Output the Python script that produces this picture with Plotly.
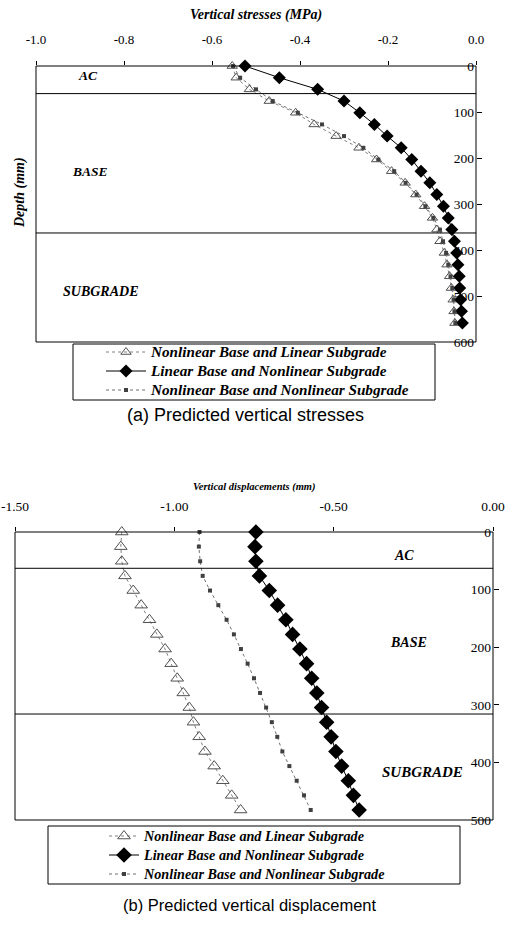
import plotly.graph_objects as go

# ---------------- Data: (a) vertical stresses ----------------
depth_a = [0, 25.4, 50.8, 76.2, 101.6, 127.0, 152.4, 177.8, 203.2, 228.6, 254.0, 279.4,
           304.8, 330.2, 355.6, 381.0, 406.4, 431.8, 457.2, 482.6, 508.0, 533.4, 558.8]
stress_nlbase_linsub = [-0.554, -0.545, -0.515, -0.470, -0.410, -0.368, -0.318, -0.266, -0.226,
                        -0.192, -0.161, -0.137, -0.117, -0.099, -0.089, -0.082, -0.072, -0.066,
                        -0.060, -0.056, -0.052, -0.050, -0.048]
stress_linbase_nlsub = [-0.525, -0.447, -0.360, -0.300, -0.264, -0.231, -0.202, -0.170, -0.146,
                        -0.125, -0.105, -0.089, -0.074, -0.063, -0.055, -0.049, -0.044, -0.041,
                        -0.038, -0.037, -0.035, -0.033, -0.031]
stress_nlbase_nlsub = [-0.552, -0.536, -0.500, -0.462, -0.405, -0.350, -0.300, -0.256, -0.222,
                       -0.186, -0.160, -0.135, -0.115, -0.097, -0.082, -0.075, -0.068, -0.063,
                       -0.058, -0.054, -0.051, -0.049, -0.047]
layers_a = [60, 363]

# ---------------- Data: (b) vertical displacements ----------------
depth_b = [0, 25.4, 50.8, 76.2, 101.6, 127.0, 152.4, 177.8, 203.2, 228.6, 254.0, 279.4,
           304.8, 330.2, 355.6, 381.0, 406.4, 431.8, 457.2, 482.6]
disp_nlbase_linsub = [-1.165, -1.168, -1.165, -1.155, -1.129, -1.104, -1.078, -1.055, -1.029, -1.010,
                      -0.991, -0.972, -0.953, -0.940, -0.922, -0.904, -0.875, -0.848, -0.820, -0.792]
disp_linbase_nlsub = [-0.744, -0.747, -0.744, -0.733, -0.702, -0.676, -0.650, -0.629, -0.606, -0.585,
                      -0.569, -0.553, -0.538, -0.522, -0.508, -0.493, -0.475, -0.454, -0.438, -0.420]
disp_nlbase_nlsub = [-0.921, -0.923, -0.919, -0.911, -0.888, -0.862, -0.836, -0.813, -0.791, -0.770,
                     -0.750, -0.731, -0.712, -0.694, -0.677, -0.661, -0.639, -0.616, -0.593, -0.572]
layers_b = [63, 316]

series_names = ["Nonlinear Base and Linear Subgrade",
                "Linear Base and Nonlinear Subgrade",
                "Nonlinear Base and Nonlinear Subgrade"]
layer_names = ["AC", "BASE", "SUBGRADE"]

xtick_a = [-1.0, -0.8, -0.6, -0.4, -0.2, 0.0]
xtext_a = ["-1.0", "-0.8", "-0.6", "-0.4", "-0.2", "0.0"]
ytick_a = [0, 100, 200, 300, 400, 500, 600]
xtick_b = [-1.5, -1.0, -0.5, 0.0]
xtext_b = ["-1.50", "-1.00", "-0.50", "0.00"]
ytick_b = [0, 100, 200, 300, 400, 500]

W, H = 507, 927
SERIF = "Liberation Serif"
SANS = "Liberation Sans"


def px(x):
    return x / W


def py(y):
    return 1 - y / H


styles = [
    dict(line=dict(color="#808080", width=1, dash="dot"),
         marker=dict(symbol="triangle-up-open", color="#505050", line=dict(width=1))),
    dict(line=dict(color="black", width=1),
         marker=dict(symbol="diamond", color="black")),
    dict(line=dict(color="#707070", width=1, dash="dot"),
         marker=dict(symbol="square", color="#404040")),
]
sizes_a = [9, 10, 4]
sizes_b = [11, 12, 4]

fig = go.Figure()

for i, (name, vals) in enumerate(zip(series_names,
                                     [stress_nlbase_linsub, stress_linbase_nlsub, stress_nlbase_nlsub])):
    st = styles[i]
    fig.add_trace(go.Scatter(x=vals, y=depth_a, mode="lines+markers",
                             name="<span style='font-size:15.2px'>%s</span>" % name,
                             line=st["line"], marker=dict(st["marker"], size=sizes_a[i]),
                             xaxis="x", yaxis="y", legend="legend", cliponaxis=False))

for i, (name, vals) in enumerate(zip(series_names,
                                     [disp_nlbase_linsub, disp_linbase_nlsub, disp_nlbase_nlsub])):
    st = styles[i]
    fig.add_trace(go.Scatter(x=vals, y=depth_b, mode="lines+markers",
                             name="<span style='font-size:14.2px'>%s</span>" % name,
                             line=st["line"], marker=dict(st["marker"], size=sizes_b[i]),
                             xaxis="x2", yaxis="y2", legend="legend2", cliponaxis=False))


def tf(size):
    return dict(family=SERIF, size=size, color="black")


xcommon = dict(showline=False, showgrid=False, zeroline=False, ticks="outside", ticklen=4,
               tickcolor="black", side="top", automargin=False)
ycommon = dict(showline=False, showgrid=False, zeroline=False, ticks="inside", ticklen=5,
               tickcolor="black", side="left", anchor="free", ticklabelstandoff=2, automargin=False)

fig.update_layout(
    width=W, height=H, autosize=False,
    margin=dict(l=0, r=0, t=0, b=0, pad=0, autoexpand=False),
    paper_bgcolor="white", plot_bgcolor="white",
    font=dict(family=SERIF, color="black"),
    showlegend=True, hovermode=False,
    xaxis=dict(xcommon, domain=[px(36), px(476)], range=[-1.0, 0.0], anchor="y",
               tickvals=xtick_a, ticktext=xtext_a, ticklabelstandoff=12, tickfont=tf(13)),
    yaxis=dict(ycommon, domain=[py(342), py(66)], range=[600, 0], position=px(476),
               tickvals=ytick_a, tickfont=tf(13.5)),
    xaxis2=dict(xcommon, domain=[px(15), px(493)], range=[-1.5, 0.0], anchor="y2",
                tickvals=xtick_b, ticktext=xtext_b, ticklabelstandoff=11, tickfont=tf(13.5)),
    yaxis2=dict(ycommon, domain=[py(820), py(532)], range=[500, 0], position=px(493),
                tickvals=ytick_b, tickfont=tf(13.5)),
    legend=dict(x=px(101), y=py(371), xanchor="left", yanchor="middle",
                bgcolor="rgba(0,0,0,0)", borderwidth=0, itemwidth=40, tracegroupgap=0,
                font=dict(family=SERIF, size=12, color="black", style="italic", weight="bold")),
    legend2=dict(x=px(104), y=py(855), xanchor="left", yanchor="middle",
                 bgcolor="rgba(0,0,0,0)", borderwidth=0, itemwidth=30, tracegroupgap=0,
                 font=dict(family=SERIF, size=12, color="black", style="italic", weight="bold")),
)

# plot frames
for xr, yr in (("x", "y"), ("x2", "y2")):
    fig.add_shape(type="rect", xref=xr + " domain", yref=yr + " domain", x0=0, x1=1, y0=0, y1=1,
                  line=dict(color="black", width=1), fillcolor="rgba(0,0,0,0)", layer="above")

# layer boundary lines
for d in layers_a:
    fig.add_shape(type="line", xref="x domain", yref="y", x0=0, x1=1, y0=d, y1=d,
                  line=dict(color="black", width=1))
for d in layers_b:
    fig.add_shape(type="line", xref="x2 domain", yref="y2", x0=0, x1=1, y0=d, y1=d,
                  line=dict(color="black", width=1))

# legend boxes
fig.add_shape(type="rect", xref="paper", yref="paper", x0=px(73), x1=px(435), y0=py(400), y1=py(344),
              line=dict(color="black", width=1), fillcolor="rgba(0,0,0,0)")
fig.add_shape(type="rect", xref="paper", yref="paper", x0=px(48), x1=px(460), y0=py(884), y1=py(826),
              line=dict(color="black", width=1), fillcolor="rgba(0,0,0,0)")

bi = dict(family=SERIF, color="black", style="italic", weight="bold")


def ann(text, x, y, size, font=None, angle=0):
    f = dict(bi) if font is None else dict(font)
    f["size"] = size
    fig.add_annotation(text=text, xref="paper", yref="paper", x=px(x), y=py(y),
                       xanchor="center", yanchor="middle", showarrow=False, font=f, textangle=angle)


ann("Vertical stresses (MPa)", 256, 15, 14)
ann("Depth (mm)", 20, 193, 14, angle=-90)
ann(layer_names[0], 88, 75, 13.5)
ann(layer_names[1], 90, 172, 13.5)
ann(layer_names[2], 100, 292, 14)
ann("(a) Predicted vertical stresses", 245, 415, 18, font=dict(family=SANS, color="black"))

ann("Vertical displacements (mm)", 254, 487, 10.5)
ann(layer_names[0], 404, 555, 14)
ann(layer_names[1], 408, 642, 14)
ann(layer_names[2], 422, 772, 15)
ann("(b) Predicted vertical displacement", 250, 905, 16.5, font=dict(family=SANS, color="black"))

fig.write_html("out.html", config={"displayModeBar": False},
               post_script="document.documentElement.style.margin='0';"
                           "document.body.style.margin='0';"
                           "document.body.style.overflow='hidden';")
